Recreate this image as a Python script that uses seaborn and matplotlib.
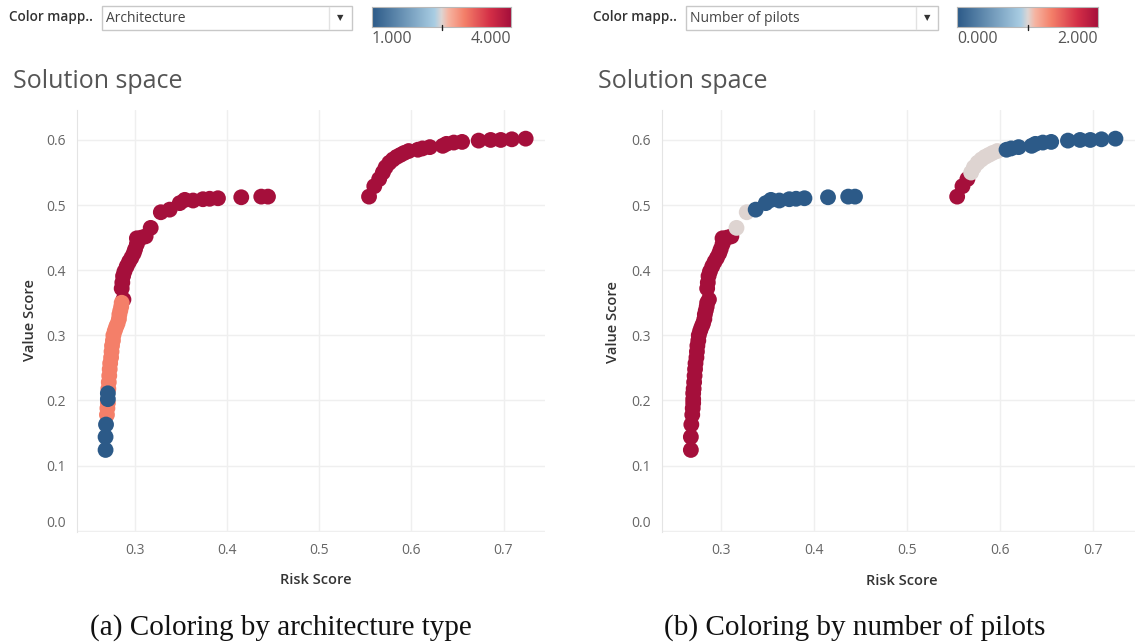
import matplotlib
matplotlib.use("Agg")  # no display in the sandbox

import matplotlib.pyplot as plt
import numpy as np
import pandas as pd
import seaborn as sns
from matplotlib.colors import LinearSegmentedColormap
from matplotlib.lines import Line2D
from matplotlib.patches import Rectangle

# Solution space points, walking along the front.
# Each row: bottom blue run, salmon run, steep red run, 2 grey, flat blue,
# then the right-hand cluster (red, grey, blue).
risk_score = [
    0.268, 0.268, 0.2685, 0.2705, 0.2705,
    0.2695, 0.270, 0.2705, 0.271, 0.2715, 0.272, 0.2725, 0.273, 0.274, 0.2745,
    0.275, 0.276, 0.2765, 0.278, 0.2795, 0.281, 0.2825, 0.283, 0.284, 0.285, 0.2855,
    0.2874, 0.2855, 0.2862, 0.287, 0.2885, 0.291, 0.2935, 0.296, 0.2985, 0.300,
    0.302, 0.302, 0.307, 0.3115,
    0.317, 0.328,
    0.3376, 0.3485, 0.354, 0.363, 0.3737, 0.381, 0.390, 0.4153, 0.437, 0.4443,
    0.554, 0.5597, 0.565,
    0.569, 0.572, 0.576, 0.580, 0.584, 0.588, 0.592, 0.597,
    0.607, 0.612, 0.620, 0.634, 0.638, 0.646, 0.655, 0.673, 0.686, 0.697, 0.709, 0.724,
]
value_score = [
    0.124, 0.144, 0.163, 0.202, 0.211,
    0.178, 0.188, 0.196, 0.218, 0.228, 0.238, 0.248, 0.257, 0.266, 0.275,
    0.284, 0.292, 0.300, 0.307, 0.313, 0.318, 0.325, 0.332, 0.338, 0.344, 0.350,
    0.355, 0.372, 0.381, 0.391, 0.398, 0.406, 0.413, 0.419, 0.426, 0.432,
    0.440, 0.449, 0.450, 0.452,
    0.465, 0.489,
    0.493, 0.503, 0.508, 0.507, 0.509, 0.5097, 0.5105, 0.512, 0.513, 0.513,
    0.513, 0.529, 0.540,
    0.550, 0.558, 0.565, 0.570, 0.574, 0.577, 0.580, 0.583,
    0.585, 0.587, 0.589, 0.591, 0.594, 0.596, 0.597, 0.599, 0.600, 0.600, 0.601, 0.602,
]
architecture = [
    1, 1, 1, 1, 1,
    3, 3, 3, 3, 3, 3, 3, 3, 3, 3,
    3, 3, 3, 3, 3, 3, 3, 3, 3, 3, 3,
    4, 4, 4, 4, 4, 4, 4, 4, 4, 4,
    4, 4, 4, 4,
    4, 4,
    4, 4, 4, 4, 4, 4, 4, 4, 4, 4,
    4, 4, 4,
    4, 4, 4, 4, 4, 4, 4, 4,
    4, 4, 4, 4, 4, 4, 4, 4, 4, 4, 4, 4,
]
num_pilots = [
    2, 2, 2, 2, 2,
    2, 2, 2, 2, 2, 2, 2, 2, 2, 2,
    2, 2, 2, 2, 2, 2, 2, 2, 2, 2, 2,
    2, 2, 2, 2, 2, 2, 2, 2, 2, 2,
    2, 2, 2, 2,
    1, 1,
    0, 0, 0, 0, 0, 0, 0, 0, 0, 0,
    2, 2, 2,
    1, 1, 1, 1, 1, 1, 1, 1,
    0, 0, 0, 0, 0, 0, 0, 0, 0, 0, 0, 0,
]

x_ticks = [0.3, 0.4, 0.5, 0.6, 0.7]
y_ticks = [0.0, 0.1, 0.2, 0.3, 0.4, 0.5, 0.6]

df = pd.DataFrame({
    "risk": risk_score,
    "value": value_score,
    "architecture": architecture,
    "pilots": num_pilots,
})

# Tableau-like red/blue diverging palette
cmap = LinearSegmentedColormap.from_list("tab_rdbu", [
    (0.0, "#2c5a88"),
    (0.45, "#a9cde3"),
    (0.5, "#ddd5d3"),
    (0.55, "#f6b4a1"),
    (0.667, "#f47f69"),
    (0.85, "#d42f47"),
    (1.0, "#a50f3b"),
])

sns.set_style("white")
plt.rcParams["font.family"] = ["Open Sans", "DejaVu Sans"]

W, H = 1141, 644
fig = plt.figure(figsize=(W / 100, H / 100), dpi=100)


def px_box(x0, y0, x1, y1):
    # pixel box (top-left origin) -> figure fraction [l, b, w, h]
    return [x0 / W, 1 - y1 / H, (x1 - x0) / W, (y1 - y0) / H]


def fx(x):
    return x / W


def fy(y):
    return 1 - y / H


def draw_header(x_off, field, lo, hi, box, sep, cbar, tick_x, title_xy):
    text_grey = "#555555"
    fig.text(fx(x_off), fy(17), "Color mapp..", fontsize=9.8, weight="semibold",
             color="#333333", va="center", ha="left")
    x0, y0, x1, y1 = box
    fig.patches.append(Rectangle((fx(x0), fy(y1)), (x1 - x0) / W, (y1 - y0) / H,
                                 transform=fig.transFigure, facecolor="white",
                                 edgecolor="#c8c8c8", linewidth=1))
    fig.lines.append(Line2D([fx(sep), fx(sep)], [fy(y0 + 1), fy(y1 - 1)],
                            transform=fig.transFigure, color="#e2e2e2", linewidth=1))
    fig.text(fx(x0 + 4), fy(18), field, fontsize=10, color="#444444",
             va="center", ha="left")
    fig.text(fx((sep + x1) / 2), fy(18), "\u25bc", fontsize=6, color="#333333",
             va="center", ha="center", family="DejaVu Sans")

    cax = fig.add_axes(px_box(*cbar))
    grad = np.linspace(0, 1, 256).reshape(1, -1)
    cax.imshow(grad, aspect="auto", cmap=cmap)
    cax.set_xticks([])
    cax.set_yticks([])
    for s in cax.spines.values():
        s.set_color("#b8b8b8")
        s.set_linewidth(0.8)
    fig.lines.append(Line2D([fx(tick_x), fx(tick_x)], [fy(cbar[3] - 2), fy(cbar[3] + 3)],
                            transform=fig.transFigure, color="#222222", linewidth=1))
    fig.text(fx(cbar[0]), fy(39), lo, fontsize=11.5, color=text_grey, va="center", ha="left")
    fig.text(fx(cbar[2]), fy(39), hi, fontsize=11.5, color=text_grey, va="center", ha="right")

    fig.text(fx(title_xy[0]), fy(title_xy[1]), "Solution space", fontsize=18,
             color="#555555", va="center", ha="left")


def draw_panel(box, hue, hue_norm, xlabel_xy, ylabel_xy):
    ax = fig.add_axes(px_box(*box))
    data = df.sort_values(hue, ascending=False, kind="stable")
    sns.scatterplot(data=data, x="risk", y="value", hue=hue, palette=cmap,
                    hue_norm=hue_norm, s=130, linewidth=0, alpha=1,
                    legend=False, ax=ax)
    ax.set_xlim(0.237, 0.745)
    ax.set_ylim(-0.002, 0.646)
    ax.set_xticks(x_ticks, labels=[f"{t:.1f}" for t in x_ticks])
    ax.set_yticks(y_ticks, labels=[f"{t:.1f}" for t in y_ticks])
    ax.get_yticklabels()[0].set_verticalalignment("bottom")
    ax.tick_params(length=0, labelsize=10, labelcolor="#666666", pad=8)
    ax.grid(True, color="#efefef", linewidth=1)
    ax.set_axisbelow(True)
    for side in ["top", "right", "bottom"]:
        ax.spines[side].set_visible(False)
    ax.spines["left"].set_color("#e4e4e4")
    ax.set_xlabel("")
    ax.set_ylabel("")
    fig.text(fx(xlabel_xy[0]), fy(xlabel_xy[1]), "Risk Score", fontsize=10.5,
             weight="semibold", color="#333333", ha="center", va="center")
    fig.text(fx(ylabel_xy[0]), fy(ylabel_xy[1]), "Value Score", fontsize=10.5,
             weight="semibold", color="#333333", ha="center", va="center",
             rotation=90)
    return ax


# (a) architecture type
draw_header(9, "Architecture", "1.000", "4.000",
            box=(102, 6, 352, 30), sep=329, cbar=(372, 7, 511, 27),
            tick_x=442, title_xy=(13, 81))
draw_panel((77, 110, 545, 532), "architecture", (1, 4), (316, 580), (30, 320))

# (b) number of pilots
draw_header(593, "Number of pilots", "0.000", "2.000",
            box=(686, 6, 938, 30), sep=916, cbar=(957, 7, 1098, 27),
            tick_x=1028, title_xy=(598, 82))
draw_panel((662, 110, 1135, 532), "pilots", (0, 2), (902, 581), (613, 322))

caption_font = ["Liberation Serif", "DejaVu Serif"]
fig.text(fx(281), fy(628), "(a) Coloring by architecture type", fontsize=21,
         family=caption_font, ha="center", va="center", color="#111111")
fig.text(fx(855), fy(628), "(b) Coloring by number of pilots", fontsize=21,
         family=caption_font, ha="center", va="center", color="#111111")

fig.savefig("out.png", dpi=100)
plt.close(fig)
